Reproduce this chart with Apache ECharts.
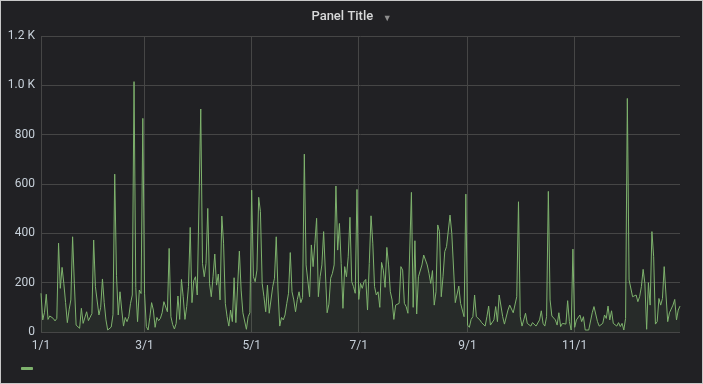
<!DOCTYPE html>
<html><head><meta charset="utf-8">
<script src="https://cdn.jsdelivr.net/npm/echarts@6/dist/echarts.min.js"></script>
<style>
html,body{margin:0;padding:0;background:#c8c8c8;width:703px;height:384px;overflow:hidden;}
#c{position:absolute;left:1px;top:1px;width:701px;height:382px;background:#212124;}
</style></head><body><div id="c"></div>
<script>
// Daily categories for one (non-leap) year, Jan 1 .. Dec 31
const YEAR = 2019;
const categories = [];
for (let d = new Date(Date.UTC(YEAR,0,1)); d.getUTCFullYear() === YEAR; d.setUTCDate(d.getUTCDate()+1)) {
  categories.push((d.getUTCMonth()+1) + '/' + d.getUTCDate());
}
const tickLabels = ['1/1','3/1','5/1','7/1','9/1','11/1'];
const yTicks = [0,200,400,600,800,1000,1200];

const values = [
157,49,80,153,51,65,60,55,45,55,
360,177,262,197,120,38,90,130,386,197,
28,24,15,96,35,28,82,46,60,75,
373,184,181,69,100,215,120,49,8,5,
20,70,640,230,69,163,89,24,59,42,
62,116,150,1015,180,42,170,156,866,157,
22,8,60,119,89,19,59,46,55,78,
123,116,82,339,62,30,12,35,146,51,
213,143,51,103,184,424,119,208,224,150,
146,904,278,224,278,501,197,143,224,316,
190,235,130,470,360,116,62,24,89,42,
220,38,186,328,170,78,73,11,62,78,
575,224,204,251,546,488,197,143,82,190,
76,73,184,218,386,170,24,59,49,69,
116,157,322,163,130,82,132,163,119,140,
721,272,265,143,353,265,360,461,143,224,
272,407,404,78,113,218,238,272,592,332,
440,278,96,265,224,305,465,204,184,157,
578,132,197,177,204,213,89,278,471,360,
184,150,163,100,282,251,181,343,272,163,
130,51,109,109,116,265,251,116,103,76,
73,566,100,370,73,224,218,272,312,292,
272,238,197,249,109,163,434,407,143,224,
326,346,349,474,400,397,119,119,186,116,
113,62,559,28,19,51,62,150,62,69,
49,38,46,24,62,105,28,24,49,103,
42,150,143,62,32,28,89,109,113,78,
82,143,528,62,24,49,76,35,28,24,
38,35,24,28,49,86,35,24,62,570,
130,65,59,49,28,78,22,35,38,32,
127,42,8,336,19,49,46,69,42,62,
8,5,8,8,78,103,96,42,24,24,
35,69,55,105,49,86,35,28,24,38,
22,35,8,55,947,211,208,143,143,150,
123,143,184,254,197,11,200,109,407,305,
32,42,136,109,136,265,272,42,78,76,
109,132,49,89,105
];

const tickSet = new Set(tickLabels);
const showTick = (i, v) => tickSet.has(v);

const chart = echarts.init(document.getElementById('c'), null, {renderer:'canvas'});
chart.setOption({
  backgroundColor: '#212124',
  animation: false,
  textStyle: {fontFamily: 'Roboto, "Noto Sans", sans-serif'},
  title: {
    text: '{a|Panel Title} {b|▼}',
    left: 'center', top: 2,
    textStyle: {
      rich: {
        a: {fontSize: 13, fontWeight: 500, color: '#d8d9da', fontFamily: 'Roboto'},
        b: {fontSize: 9, color: '#8e8e8e', padding: [3,0,0,5]}
      }
    }
  },
  legend: {
    left: 15, top: 361,
    data: [{name: 'A-series', icon: 'roundRect'}],
    itemWidth: 12, itemHeight: 3, itemGap: 0,
    formatter: () => '',
    textStyle: {fontSize: 1}
  },
  grid: {left: 40, right: 22, top: 35, bottom: 51, containLabel: false},
  xAxis: {
    type: 'category',
    data: categories,
    boundaryGap: false,
    axisLine: {show: false},
    axisTick: {show: false},
    axisLabel: {interval: showTick, color: '#c7d0d9', fontSize: 12, margin: 8, fontFamily: 'Roboto'},
    splitLine: {show: true, interval: showTick, lineStyle: {color: '#464646', width: 1}}
  },
  yAxis: {
    type: 'value',
    min: 0, max: 1200, interval: 200,
    axisLine: {show: false},
    axisTick: {show: false},
    axisLabel: {
      color: '#c7d0d9', fontSize: 12, margin: 6, fontFamily: 'Roboto',
      formatter: v => v >= 1000 ? (v/1000).toFixed(1) + ' K' : String(v)
    },
    splitLine: {show: true, lineStyle: {color: '#464646', width: 1}}
  },
  series: [{
    name: 'A-series',
    type: 'line',
    data: values,
    symbol: 'none',
    showSymbol: false,
    lineStyle: {color: '#7eb26d', width: 1},
    itemStyle: {color: '#7eb26d'},
    areaStyle: {color: 'rgba(126,178,109,0.1)'}
  }]
});
</script></body></html>
